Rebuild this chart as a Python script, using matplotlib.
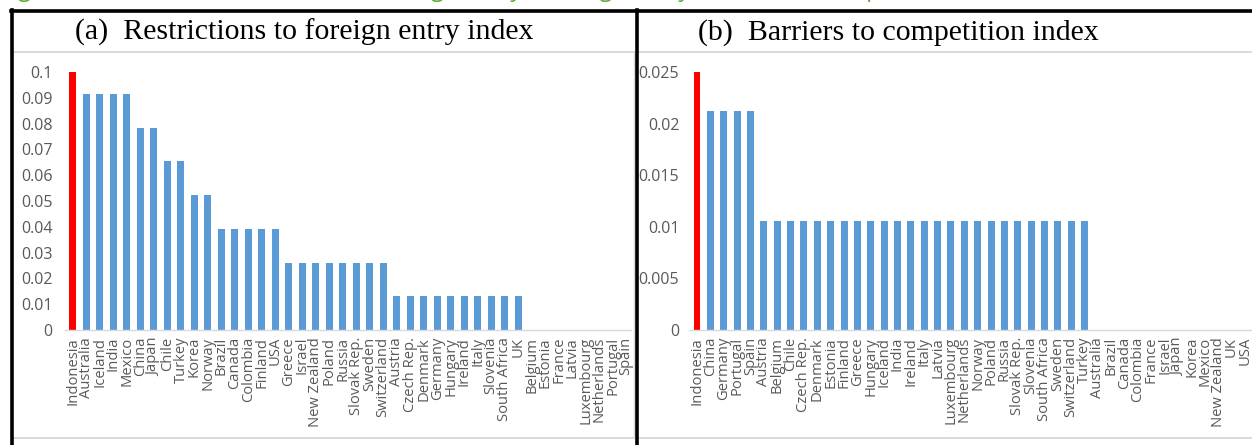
import matplotlib.pyplot as plt
from matplotlib.lines import Line2D

# Panel (a): restrictions to foreign entry index
entry_countries = ['Indonesia', 'Australia', 'Iceland', 'India', 'Mexico', 'China', 'Japan',
                   'Chile', 'Turkey', 'Korea', 'Norway', 'Brazil', 'Canada', 'Colombia',
                   'Finland', 'USA', 'Greece', 'Israel', 'New Zealand', 'Poland', 'Russia',
                   'Slovak Rep.', 'Sweden', 'Switzerland', 'Austria', 'Czech Rep.', 'Denmark',
                   'Germany', 'Hungary', 'Ireland', 'Italy', 'Slovenia', 'South Africa', 'UK',
                   'Belgium', 'Estonia', 'France', 'Latvia', 'Luxembourg', 'Netherlands',
                   'Portugal', 'Spain']
entry_values = [0.1, 0.0915, 0.0915, 0.0915, 0.0915, 0.0784, 0.0784,
                0.0654, 0.0654, 0.0523, 0.0523, 0.0392, 0.0392, 0.0392,
                0.0392, 0.0392, 0.0261, 0.0261, 0.0261, 0.0261, 0.0261,
                0.0261, 0.0261, 0.0261, 0.0131, 0.0131, 0.0131,
                0.0131, 0.0131, 0.0131, 0.0131, 0.0131, 0.0131, 0.0131,
                0, 0, 0, 0, 0, 0,
                0, 0]
entry_ticks = [0, 0.01, 0.02, 0.03, 0.04, 0.05, 0.06, 0.07, 0.08, 0.09, 0.1]
entry_ticklabels = ['0', '0.01', '0.02', '0.03', '0.04', '0.05', '0.06', '0.07', '0.08', '0.09', '0.1']

# Panel (b): barriers to competition index
comp_countries = ['Indonesia', 'China', 'Germany', 'Portugal', 'Spain', 'Austria', 'Belgium',
                  'Chile', 'Czech Rep.', 'Denmark', 'Estonia', 'Finland', 'Greece', 'Hungary',
                  'Iceland', 'India', 'Ireland', 'Italy', 'Latvia', 'Luxembourg', 'Netherlands',
                  'Norway', 'Poland', 'Russia', 'Slovak Rep.', 'Slovenia', 'South Africa',
                  'Sweden', 'Switzerland', 'Turkey', 'Australia', 'Brazil', 'Canada',
                  'Colombia', 'France', 'Israel', 'Japan', 'Korea', 'Mexico', 'New Zealand',
                  'UK', 'USA']
comp_values = [0.025, 0.0212, 0.0212, 0.0212, 0.0212] + [0.0106] * 25 + [0] * 12
comp_ticks = [0, 0.005, 0.01, 0.015, 0.02, 0.025]
comp_ticklabels = ['0', '0.005', '0.01', '0.015', '0.02', '0.025']

W, H = 1252, 445
BLUE = '#5b9bd5'
RED = '#ff0000'
GREY_TXT = '#595959'
GREY_LINE = '#d9d9d9'

plt.rcParams['font.family'] = ['Open Sans', 'DejaVu Sans']

fig = plt.figure(figsize=(W / 100, H / 100), dpi=100)


def px_axes(x0, x1, ytop, ybot):
    return fig.add_axes([x0 / W, 1 - ybot / H, (x1 - x0) / W, (ybot - ytop) / H])


def draw_panel(ax, names, values, ticks, ticklabels, ymax, xlim, ypad):
    colors = [RED if n == 'Indonesia' else BLUE for n in names]
    ax.bar(range(len(names)), values, width=0.52, color=colors, zorder=2)
    ax.set_xlim(*xlim)
    ax.set_ylim(0, ymax)
    ax.set_xticks(range(len(names)))
    ax.set_xticklabels(names, rotation=90, fontsize=10.6, color=GREY_TXT)
    ax.set_yticks(ticks)
    ax.set_yticklabels(ticklabels, fontsize=11.5, color=GREY_TXT)
    ax.tick_params(axis='both', length=0)
    ax.tick_params(axis='x', pad=5)
    ax.tick_params(axis='y', pad=ypad)
    for side in ['top', 'right', 'left']:
        ax.spines[side].set_visible(False)
    ax.spines['bottom'].set_color(GREY_LINE)
    ax.spines['bottom'].set_linewidth(1.0)
    ax.patch.set_alpha(0)


ax_a = px_axes(64.9, 631.4, 72, 330)
draw_panel(ax_a, entry_countries, entry_values, entry_ticks, entry_ticklabels,
           0.1, (-0.6, 41.4), 9)

ax_b = px_axes(689, 1253, 72, 330)
draw_panel(ax_b, comp_countries, comp_values, comp_ticks, comp_ticklabels,
           0.025, (-0.6, 41.6), 7)


def hline(y, x0, x1, color, lw):
    fig.add_artist(Line2D([x0 / W, x1 / W], [1 - y / H, 1 - y / H],
                          transform=fig.transFigure, color=color, lw=lw))


def vline(x, y0, y1, color, lw):
    fig.add_artist(Line2D([x / W, x / W], [1 - y0 / H, 1 - y1 / H],
                          transform=fig.transFigure, color=color, lw=lw))


# chart area outlines under the headings and along the bottom
hline(52, 13, 634, GREY_LINE, 1.4)
hline(52, 638, W, GREY_LINE, 1.4)
hline(437.5, 13, 634, GREY_LINE, 1.4)
hline(437.5, 638, W, GREY_LINE, 1.4)
vline(633.5, 52, 437.5, GREY_LINE, 1.0)

# table frame
hline(11, 10.5, W, 'black', 2.6)
vline(12, 9.5, H, 'black', 2.6)
vline(636.5, 9.5, H, 'black', 2.6)

# panel headings
fig.text(75 / W, 1 - 40 / H, '(a)  Restrictions to foreign entry index',
         family='Liberation Serif', fontsize=21.5, color='black', va='baseline')
fig.text(698 / W, 1 - 40 / H, '(b)  Barriers to competition index',
         family='Liberation Serif', fontsize=21.5, color='black', va='baseline')

# figure caption running above the frame, only its descenders fall inside
fig.text(0.0 / W, 1 + 4 / H,
         'Figure 3. Indonesia, restrictions to foreign entry and regulatory barriers to competition, 2018',
         fontsize=17, color='#5fae3a', va='baseline')

fig.savefig('out.png', dpi=100)
